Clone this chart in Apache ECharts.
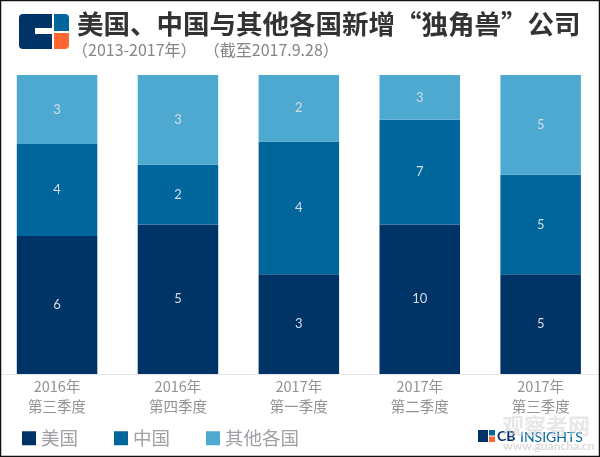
<!DOCTYPE html>
<html><head><meta charset="utf-8">
<style>html,body{margin:0;padding:0;background:#fff}#c{width:600px;height:457px}</style>
<script src="https://cdn.jsdelivr.net/npm/echarts@6/dist/echarts.min.js"></script>
</head><body><div id="c"></div>
<script>
const categories = ['2016年\n第三季度','2016年\n第四季度','2017年\n第一季度','2017年\n第二季度','2017年\n第三季度'];
const usValues = [6,5,3,10,5];
const cnValues = [4,2,4,7,5];
const otherValues = [3,3,2,3,5];
const titleText = '美国、中国与其他各国新增“独角兽”公司';
const subText = '（2013-2017年）  （截至2017.9.28）';
const totals = categories.map((_,i)=>usValues[i]+cnValues[i]+otherValues[i]);
const F = '"Noto Sans CJK SC",sans-serif';
function mk(name,vals,color){
  return {name,type:'bar',stack:'a',barWidth:80.5,
    data:vals.map((v,i)=>({value:v/totals[i],raw:v})),
    itemStyle:{color},
    label:{show:true,position:'inside',color:'#d5dde6',fontSize:13,fontFamily:'Lato,sans-serif',formatter:p=>p.data.raw}};
}
const chart = echarts.init(document.getElementById('c'),null,{renderer:'canvas'});
chart.setOption({
  animation:false,backgroundColor:'#fff',
  grid:{left:-3.4,width:604.5,top:75,height:299,outerBoundsMode:'none'},
  xAxis:{type:'category',data:categories,axisTick:{show:false},
    axisLine:{lineStyle:{color:'#e6e6e6',width:1}},
    axisLabel:{color:'#929297',fontSize:14.5,lineHeight:20,margin:2,fontFamily:F,interval:0}},
  yAxis:{type:'value',min:0,max:1,show:false},
  legend:{left:17,top:424,itemWidth:14,itemHeight:14,itemGap:36,icon:'rect',
    textStyle:{color:'#a0a0a6',fontSize:18.5,fontFamily:F}},
  series:[mk('美国',usValues,'#003366'),mk('中国',cnValues,'#00669b'),mk('其他各国',otherValues,'#4da9cf')],
  graphic:[
    {type:'rect',shape:{x:19,y:14,width:33,height:35,r:[4,0,0,4]},style:{fill:'#003366'}},
    {type:'rect',shape:{x:35,y:28,width:17,height:6},style:{fill:'#fff'}},
    {type:'rect',shape:{x:54,y:14,width:15,height:17,r:[0,4,0,0]},style:{fill:'#00669b'}},
    {type:'rect',shape:{x:54,y:33,width:15,height:16,r:[0,0,4,0]},style:{fill:'#ff6633'}},
    {type:'text',x:77,y:11,style:{text:titleText,fill:'#333',font:'bold 26.5px "Noto Sans CJK SC"'}},
    {type:'text',x:72,y:42,style:{text:subText,fill:'#85858a',font:'16px '+F}},
    {type:'rect',shape:{x:478,y:430,width:10,height:12},style:{fill:'#003366'}},
    {type:'rect',shape:{x:489,y:430,width:6,height:5.5},style:{fill:'#00669b'}},
    {type:'rect',shape:{x:489,y:436.5,width:6,height:5.5},style:{fill:'#ff6633'}},
    {type:'text',x:497,y:429,style:{text:'CB',fill:'#003366',font:'bold 14px Lato'}},
    {type:'text',x:520,y:430,style:{text:'INSIGHTS',fill:'#00669b',font:'14px Lato'}},
    {type:'text',x:502,y:415,style:{text:'观察者网',fill:'rgba(215,215,215,0.6)',font:'bold 22px "Noto Sans CJK SC"'}},
    {type:'text',x:503,y:440,style:{text:'www.guancha.cn',fill:'rgba(195,195,195,0.6)',font:'bold 12px Lato'}},
    {type:'rect',z:100,shape:{x:0.5,y:0.5,width:599,height:456},style:{fill:'none',stroke:'#111',lineWidth:1.5}}
  ]
});
</script></body></html>
